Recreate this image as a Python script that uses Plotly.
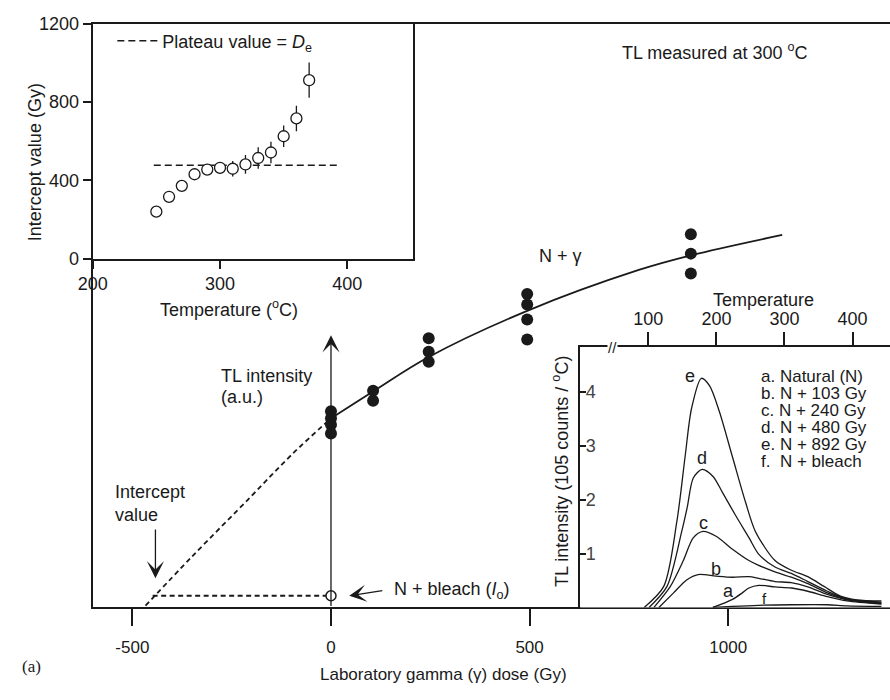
import plotly.graph_objects as go

# ------------------------- DATA -------------------------
# Main panel: additive-dose growth curve, TL measured at 300 oC
dose_groups = [0, 106, 246, 494, 906]
tl_points = [
    [3.36, 3.24, 3.13, 2.98],
    [3.71, 3.54],
    [4.61, 4.38, 4.21],
    [5.37, 5.19, 4.93, 4.59],
    [6.39, 6.06, 5.72],
]
fit_dose = [0, 106, 246, 494, 775, 906, 1136]
fit_tl = [3.24, 3.70, 4.29, 5.08, 5.78, 6.03, 6.38]
extrap_dose = [-467, -350, -200, -100, 0]
extrap_tl = [0.03, 0.87, 1.91, 2.61, 3.24]
bleach_tl = 0.2
intercept_dose = -449
dose_ticks = [-500, 0, 500, 1000]
dose_ticktext = ["-500", "0", "500", "1000"]

# Inset: plateau test (intercept vs temperature)
plateau_temp = [250, 260, 270, 280, 290, 300, 310, 320, 330, 340, 350, 360, 370]
intercept_gy = [240, 316, 372, 431, 455, 464, 459, 481, 514, 542, 625, 716, 911]
intercept_err = [10, 10, 10, 10, 12, 30, 40, 48, 55, 55, 55, 65, 90]
plateau_value = 477
plateau_span = [248, 394]

# Inset: glow curves (temperature oC, TL intensity)
glow_a_T = [194.7, 223.6, 238, 247.7, 262.1, 286, 310, 334.2, 363, 391.9, 442.4]
glow_a_I = [0, 0.15, 0.27, 0.36, 0.41, 0.38, 0.36, 0.30, 0.20, 0.12, 0.06]
glow_b_T = [115.4, 137, 156.2, 173.1, 199.5, 223.6, 247.7, 262.1, 286, 310, 334.2, 363, 391.9, 442.4]
glow_b_I = [0, 0.27, 0.51, 0.61, 0.58, 0.56, 0.57, 0.54, 0.48, 0.46, 0.38, 0.24, 0.14, 0.07]
glow_c_T = [108.2, 132.3, 151.4, 165.9, 180.3, 199.5, 223.6, 247.7, 262.1, 286, 310, 334.2, 363, 391.9, 442.4]
glow_c_I = [0, 0.39, 0.87, 1.29, 1.41, 1.32, 1.08, 0.87, 0.78, 0.66, 0.56, 0.44, 0.27, 0.15, 0.085]
glow_d_T = [101, 127.4, 149, 157, 166, 179, 195, 209, 228, 248, 262, 286, 310, 334.2, 363, 391.9, 442.4]
glow_d_I = [0, 0.39, 1.41, 1.85, 2.40, 2.56, 2.43, 2.13, 1.71, 1.29, 0.99, 0.75, 0.63, 0.48, 0.30, 0.16, 0.10]
glow_e_T = [93.8, 122.6, 141.8, 153.9, 163.4, 177.8, 190, 204.4, 223.6, 242.8, 257.2, 286, 310, 334.2, 358.1, 382.2, 406.3, 442.4]
glow_e_I = [0, 0.39, 1.59, 2.79, 3.69, 4.25, 4.11, 3.63, 2.79, 1.95, 1.41, 0.87, 0.69, 0.57, 0.39, 0.21, 0.14, 0.12]
glow_f_T = [194.7, 223.6, 262, 310, 363, 392, 442.4]
glow_f_I = [0, 0.02, 0.04, 0.05, 0.05, 0.03, 0.02]
glow_legend = ["a. Natural (N)", "b. N + 103 Gy", "c. N + 240 Gy",
               "d. N + 480 Gy", "e. N + 892 Gy", "f.  N + bleach"]
temp_ticks = [0, 100, 200, 300, 400]
temp_ticktext = ["RT", "100", "200", "300", "400"]

# ------------------------- FIGURE -------------------------
W, H = 890, 700
FONT = "Arial, Liberation Sans, Helvetica, sans-serif"
BLACK = "#1a1a1a"

def px(x):
    return x / W

def py(y):
    return 1 - y / H

fig = go.Figure()

# main panel
fig.add_trace(go.Scatter(x=extrap_dose, y=extrap_tl, mode="lines", line_shape="spline",
                         line=dict(color=BLACK, width=1.8, dash="5px,3.5px"),
                         xaxis="x", yaxis="y", showlegend=False))
fig.add_trace(go.Scatter(x=[intercept_dose, 0], y=[bleach_tl, bleach_tl], mode="lines",
                         line=dict(color=BLACK, width=1.8, dash="5px,3.5px"),
                         xaxis="x", yaxis="y", showlegend=False))
fig.add_trace(go.Scatter(x=fit_dose, y=fit_tl, mode="lines", line_shape="spline",
                         line=dict(color=BLACK, width=1.8),
                         xaxis="x", yaxis="y", showlegend=False))
dx, dy = [], []
for d, vals in zip(dose_groups, tl_points):
    for v in vals:
        dx.append(d)
        dy.append(v)
fig.add_trace(go.Scatter(x=dx, y=dy, mode="markers",
                         marker=dict(color=BLACK, size=12, line=dict(width=0)),
                         xaxis="x", yaxis="y", showlegend=False))
fig.add_trace(go.Scatter(x=[0], y=[bleach_tl], mode="markers",
                         marker=dict(color="white", size=10, line=dict(color=BLACK, width=1.5)),
                         xaxis="x", yaxis="y", showlegend=False))

# inset: plateau
fig.add_trace(go.Scatter(x=plateau_span, y=[plateau_value, plateau_value], mode="lines",
                         line=dict(color=BLACK, width=1.5, dash="7px,4px"),
                         name="Plateau value = <i>D</i><sub>e</sub>",
                         xaxis="x2", yaxis="y2", showlegend=True))
fig.add_trace(go.Scatter(x=plateau_temp, y=intercept_gy, mode="markers",
                         marker=dict(color="white", size=11, line=dict(color=BLACK, width=1.3)),
                         error_y=dict(type="data", array=intercept_err, color=BLACK,
                                      thickness=1.3, width=0),
                         xaxis="x2", yaxis="y2", showlegend=False))

# inset: glow curves
for T, I in [(glow_a_T, glow_a_I), (glow_b_T, glow_b_I), (glow_c_T, glow_c_I),
             (glow_d_T, glow_d_I), (glow_e_T, glow_e_I), (glow_f_T, glow_f_I)]:
    fig.add_trace(go.Scatter(x=T, y=I, mode="lines", line_shape="spline",
                             line=dict(color=BLACK, width=1.3, smoothing=0.8),
                             xaxis="x3", yaxis="y3", showlegend=False))

MAIN_Y0, MAIN_Y1 = py(615), py(14)
axis_common = dict(showgrid=False, zeroline=False, linecolor=BLACK, linewidth=2,
                   tickcolor=BLACK, showline=True)

fig.update_layout(
    width=W, height=H,
    margin=dict(l=0, r=0, t=0, b=0),
    paper_bgcolor="white", plot_bgcolor="white",
    font=dict(family=FONT, size=18, color=BLACK),
    xaxis=dict(domain=[px(79), 1.0], range=[-600, 1407.4], anchor="y", mirror=True,
               ticks="outside", ticklen=17, tickwidth=1.5, tickvals=dose_ticks,
               ticktext=dose_ticktext, tickfont=dict(size=17), ticklabelstandoff=6,
               **axis_common),
    yaxis=dict(domain=[MAIN_Y0, MAIN_Y1], range=[0, 10], anchor="x",
               showticklabels=False, ticks="", **axis_common),
    xaxis2=dict(domain=[px(79), px(405)], range=[200, 451.7], anchor="y2", mirror=True,
                ticks="outside", ticklen=8, tickwidth=1.5, tickvals=[200, 300, 400],
                tickfont=dict(size=18), **axis_common),
    yaxis2=dict(domain=[py(256), MAIN_Y1], range=[0, 1200], anchor="x2", mirror=True,
                ticks="outside", ticklen=8, tickwidth=1.5, tickvals=[0, 400, 800, 1200],
                tickfont=dict(size=18), **axis_common),
    xaxis3=dict(domain=[px(575), 1.0], range=[0, 455], anchor="y3", side="top",
                ticks="outside", ticklen=13, tickwidth=1.5, tickvals=temp_ticks,
                ticktext=temp_ticktext, tickfont=dict(size=18), **axis_common),
    yaxis3=dict(domain=[MAIN_Y0, py(347)], range=[0, 4.829], anchor="x3",
                ticks="inside", ticklen=6, tickwidth=1.5, tickvals=[1, 2, 3, 4],
                ticklabelposition="inside", tickfont=dict(size=18), **axis_common),
    legend=dict(x=px(99), y=py(32), xanchor="left", yanchor="middle",
                bgcolor="rgba(0,0,0,0)", font=dict(size=18), itemwidth=40,
                tracegroupgap=0),
)

ann = []

def text(x, y, t, size=18, xanchor="center", angle=0, family=FONT, align="center"):
    ann.append(dict(x=px(x), y=py(y), xref="paper", yref="paper", text=t,
                    showarrow=False, xanchor=xanchor, yanchor="middle",
                    textangle=angle, align=align,
                    font=dict(size=size, family=family, color=BLACK)))

text(711, 43, "TL measured at 300 <sup>o</sup>C")
text(555, 253, "N + γ")
text(207, 377, "TL intensity", xanchor="left")
text(207, 398, "(a.u.)", xanchor="left")
text(100, 508, "Intercept<br>value", xanchor="left", align="left")
text(383, 598, "N + bleach (<i>I</i><sub>o</sub>)", xanchor="left")
text(436, 684, "Laboratory gamma (γ) dose (Gy)", size=17)
text(5, 676, "(a)", size=17, xanchor="left", family="Liberation Serif, Times New Roman, serif")
text(20, 157, "Intercept value (Gy)", angle=-90)
text(218, 307, "Temperature (<sup>o</sup>C)")
text(761, 299, "Temperature")
text(555, 475, "TL intensity (105 counts / <sup>o</sup>C)", angle=-90)
for i, lab in enumerate(glow_legend):
    text(757, 377 + 17.6 * i, lab, size=17, xanchor="left")
for lab, x, y, s in [("e", 687, 377, 18), ("d", 699, 461, 18), ("c", 700, 528, 18),
                     ("b", 713, 575, 18), ("a", 726, 598, 18), ("f", 762, 606, 15)]:
    text(x, y, lab, size=s)

# axis break on temperature axis
ann.append(dict(x=48, y=py(347), xref="x3", yref="paper", text="//", showarrow=False,
                bgcolor="white", borderpad=0, font=dict(size=15, color=BLACK),
                xanchor="center", yanchor="middle"))

# arrows
arrow_common = dict(xref="x", yref="y", axref="x", ayref="y", text="", showarrow=True,
                    arrowhead=3, arrowsize=2.2, arrowwidth=1.3, arrowcolor=BLACK)
ann.append(dict(x=0, y=4.66, ax=0, ay=0, **arrow_common))
ann.append(dict(x=-442, y=0.5, ax=-442, ay=1.36, **arrow_common))
ann.append(dict(x=46, y=0.2, ax=133, ay=0.29, **arrow_common))

fig.update_layout(annotations=ann)
fig.write_html("out.html")
